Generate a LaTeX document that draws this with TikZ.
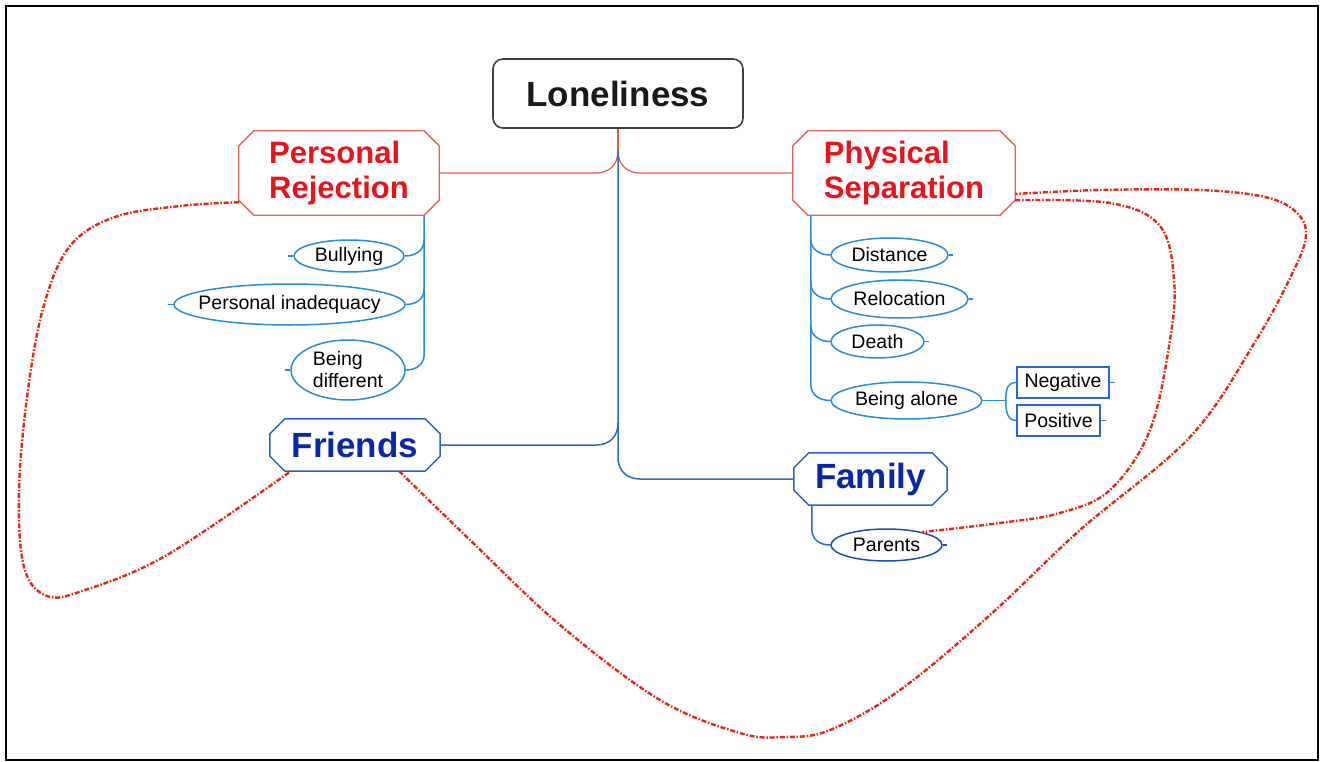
\documentclass[tikz,border=0pt]{standalone}
\usepackage{fontspec}
\newfontfamily\arial{Liberation Sans}
\usetikzlibrary{shapes.geometric,calc}
\definecolor{redtxt}{RGB}{232,20,28}
\definecolor{redborder}{RGB}{232,100,90}
\definecolor{redconn}{RGB}{230,90,70}
\definecolor{bluetxt}{RGB}{10,40,165}
\definecolor{blueborder}{RGB}{40,100,200}
\definecolor{ellblue}{RGB}{40,140,215}
\definecolor{connblue}{RGB}{40,105,200}
\definecolor{parblue}{RGB}{30,75,185}
\definecolor{ddred}{RGB}{228,40,20}
\newcommand\octagon[2]{\draw[#2] ([xshift=15pt]#1.north west) -- ([xshift=-15pt]#1.north east) -- ([yshift=-15pt]#1.north east) -- ([yshift=15pt]#1.south east) -- ([xshift=-15pt]#1.south east) -- ([xshift=15pt]#1.south west) -- ([yshift=15pt]#1.south west) -- ([yshift=-15pt]#1.north west) -- cycle;}
\begin{document}
\begin{tikzpicture}[x=1pt,y=-1pt,
  mainbox/.style={draw=black!75,line width=1.6pt,rounded corners=10pt,inner sep=0pt,font=\arial\bfseries\fontsize{35}{40}\selectfont,text=black!90},
  catbox/.style={inner sep=0pt,align=left},
  redcat/.style={catbox,text=redtxt,font=\arial\bfseries\fontsize{31}{35}\selectfont},
  bluecat/.style={catbox,text=bluetxt,font=\arial\bfseries\fontsize{35}{40}\selectfont},
  ell/.style={ellipse,draw=ellblue,line width=1.5pt,inner sep=0pt,inner xsep=-20pt,align=left,font=\arial\fontsize{19.5}{22}\selectfont},
  smallbox/.style={rectangle,draw=connblue,line width=1.5pt,inner sep=0pt,font=\arial\fontsize{19.5}{22}\selectfont},
  redline/.style={draw=redconn,line width=1.2pt},
  blueline/.style={draw=connblue,line width=1.5pt},
  ellline/.style={draw=ellblue,line width=1.5pt},
  dd/.style={draw=ddred,line width=2.4pt,dash pattern=on 5pt off 1.8pt on 1.5pt off 1.8pt}
]
\useasboundingbox (0,0) rectangle (1321,762);
\fill[white] (0,0) rectangle (1321,762);
\draw[line width=2pt,black] (6,6) rectangle (1318,760);

% main nodes
\node[mainbox,minimum width=250pt,minimum height=69pt] (L) at (618,93.5) {Loneliness};
\node[redcat,minimum width=200pt,minimum height=84pt] (PR) at (339,173) {Personal\\Rejection};
\octagon{PR}{draw=redborder,line width=1.3pt}
\node[redcat,minimum width=222pt,minimum height=84pt] (PS) at (904,173) {Physical\\Separation};
\octagon{PS}{draw=redborder,line width=1.3pt}
\node[bluecat,minimum width=170pt,minimum height=52pt] (FR) at (355,445) {Friends};
\octagon{FR}{draw=blueborder,line width=1.5pt}
\node[bluecat,minimum width=153pt,minimum height=52pt] (FA) at (870.5,479) {Family};
\octagon{FA}{draw=blueborder,line width=1.5pt}

% sub nodes
\node[ell,minimum width=110pt,minimum height=32pt] (BU) at (349,256) {Bullying};
\node[ell,minimum width=231pt,minimum height=41pt] (PI) at (289.5,304.5) {Personal inadequacy};
\node[ell,minimum width=114pt,minimum height=60pt] (BD) at (348,370) {Being\\different};
\node[ell,minimum width=117pt,minimum height=34pt] (DI) at (889.5,255) {Distance};
\node[ell,minimum width=137pt,minimum height=38pt] (RE) at (899.5,299) {Relocation};
\node[ell,minimum width=93pt,minimum height=33pt] (DE) at (877.5,341.5) {Death};
\node[ell,minimum width=151pt,minimum height=37pt] (BA) at (906.5,400.5) {Being alone};
\node[ell,draw=parblue,minimum width=111pt,minimum height=32pt] (PA) at (886.5,545) {Parents};
\node[smallbox,minimum width=92pt,minimum height=31pt] (NE) at (1063,382.5) {Negative};
\node[smallbox,minimum width=83pt,minimum height=31pt] (PO) at (1058.5,420.5) {Positive};

% ticks
\draw[ellline] (BU.west) -- +(-5,0);
\draw[ellline] (PI.west) -- +(-5,0);
\draw[ellline] (BD.west) -- +(-5,0);
\draw[ellline] (DI.east) -- +(4,0);
\draw[ellline] (RE.east) -- +(4,0);
\draw[ellline] (DE.east) -- +(4,0);
\draw[ellline] (NE.east) -- +(5,0);
\draw[ellline] (PO.east) -- +(5,0);
\draw[draw=parblue,line width=1.5pt] (PA.east) -- +(4,0);

% main connectors
\coordinate (j) at ($(L.south)+(0,22)$);
\draw[redline] (L.south) -- (j);
\draw[redline] (j) .. controls +(0,15) and +(12,0) .. ($(j |- PR.east)+(-22,0)$) -- (PR.east);
\draw[redline] (j) .. controls +(0,15) and +(-12,0) .. ($(j |- PS.west)+(22,0)$) -- (PS.west);
\draw[blueline] (j) -- ($(j |- FR.east)+(0,-22)$) .. controls +(0,15) and +(12,0) .. ($(j |- FR.east)+(-22,0)$) -- (FR.east);
\draw[blueline] ($(j |- FR.east)+(0,-22)$) -- ($(j |- FA.west)+(0,-22)$) .. controls +(0,15) and +(-12,0) .. ($(j |- FA.west)+(22,0)$) -- (FA.west);

% left branches
\coordinate (pl) at ([xshift=-15pt]PR.south east);
\draw[ellline] (pl) -- ($(BD.east -| pl)+(0,-16)$) .. controls +(0,11) and +(10,0) .. (BD.east);
\draw[ellline] ($(BU.east -| pl)+(0,-16)$) .. controls +(0,11) and +(10,0) .. (BU.east);
\draw[ellline] ($(PI.east -| pl)+(0,-16)$) .. controls +(0,11) and +(10,0) .. (PI.east);

% right branches
\coordinate (pr) at ([xshift=18pt]PS.south west);
\draw[ellline] (pr) -- ($(BA.west -| pr)+(0,-16)$) .. controls +(0,11) and +(-10,0) .. (BA.west);
\draw[ellline] ($(DI.west -| pr)+(0,-16)$) .. controls +(0,11) and +(-10,0) .. (DI.west);
\draw[ellline] ($(RE.west -| pr)+(0,-16)$) .. controls +(0,11) and +(-10,0) .. (RE.west);
\draw[ellline] ($(DE.west -| pr)+(0,-16)$) .. controls +(0,11) and +(-10,0) .. (DE.west);

% being alone split
\coordinate (bs) at ($(BA.east)+(23,0)$);
\draw[ellline] (BA.east) -- (bs);
\draw[ellline] (bs) .. controls +(0,-13) and +(-8,0) .. (NE.west);
\draw[ellline] (bs) .. controls +(0,13) and +(-8,0) .. (PO.west);

% family to parents
\coordinate (pf) at ([xshift=18pt]FA.south west);
\draw[blueline] (pf) -- ($(PA.west -| pf)+(0,-16)$) .. controls +(0,11) and +(-10,0) .. (PA.west);

% red dash-dot relations
\coordinate (c1s) at ([yshift=13pt]PR.south west);
\coordinate (c1e) at ([xshift=21pt]FR.south west);
\draw[dd] plot[smooth,tension=0.6] coordinates {(c1s) (180,206) (115,217) (70,246) (44,305) (28,390) (19,490) (24,567) (47,596) (85,590) (167,555) (c1e)};

\coordinate (c2s) at ([xshift=-41pt]FR.south east);
\coordinate (c2e) at ($(PS.east)+(0,21)$);
\draw[dd] plot[smooth,tension=0.6] coordinates {(c2s) (470,540) (560,625) (660,700) (740,733) (784,737) (830,730) (900,690) (990,615) (1080,530) (1190,437) (1255,342) (1293,272) (1306,235) (1296,212) (1265,197) (1200,190) (1100,190) (c2e)};

\coordinate (c3s) at ([yshift=15pt]PS.south east);
\draw[dd] plot[smooth,tension=0.6] coordinates {(c3s) (1110,203) (1160,226) (1174,280) (1170,340) (1150,430) (1110,490) (1060,513) (1000,523) (PA.20)};
\end{tikzpicture}
\end{document}
